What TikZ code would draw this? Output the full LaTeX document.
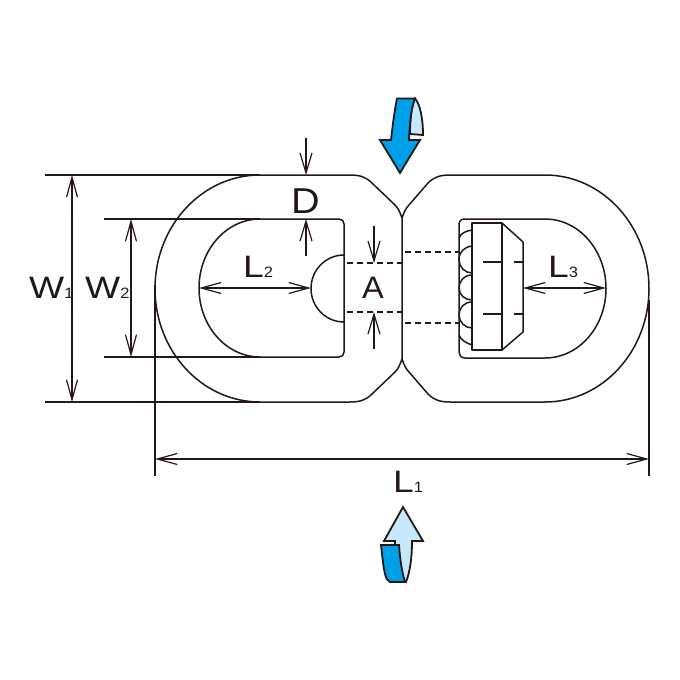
\documentclass[tikz,border=0pt]{standalone}
\usepackage{fontspec}
\setmainfont{Liberation Sans}
\usetikzlibrary{arrows.meta}
\definecolor{ink}{HTML}{231815}
\definecolor{bluefill}{HTML}{00A0E9}
\definecolor{lightfill}{HTML}{C7E8FA}
\newcommand{\dimlab}[2]{\scalebox{1.2}[1]{\fontsize{31}{31}\selectfont #1}\scalebox{1.1}[1]{\fontsize{15}{15}\selectfont #2}}
\tikzset{
  part/.style={draw=ink,line width=1.5pt,line join=round},
  thinline/.style={draw=ink,line width=1.2pt},
  dimline/.style={draw=ink,line width=1.2pt,{Straight Barb[length=20pt,width=11pt,line width=1.2pt]}-{Straight Barb[length=20pt,width=11pt,line width=1.2pt]}},
  pointer/.style={draw=ink,line width=1.2pt,-{Straight Barb[length=20pt,width=12pt,line width=1.2pt]}},
  dashline/.style={draw=ink,line width=1.3pt,dash pattern=on 6pt off 4pt},
  arrowline/.style={draw=ink,line width=1.8pt,line join=miter},
  dimtext/.style={inner sep=0pt,anchor=base west,text=ink}
}
\begin{document}
\begin{tikzpicture}[x=1pt,y=-1pt]
\useasboundingbox (0,0) rectangle (680,680);
% extension lines
\draw[thinline] (45,175) -- (260,175);
\draw[thinline] (45,402) -- (260,402);
\draw[thinline] (104,219) -- (260,219);
\draw[thinline] (104,357) -- (260,357);
\draw[thinline] (155,285) -- (155,476);
\draw[thinline] (649,300) -- (649,476);
% outer contour, left ring
\draw[part] (402,218) .. controls (400,212) and (398,208) .. (395,205)
  -- (372,183) .. controls (366,177) and (360,175) .. (350,175) -- (260,175)
  arc[start angle=-90,end angle=-270,x radius=105,y radius=113.5] -- (350,402)
  .. controls (360,402) and (366,400) .. (372,394) -- (395,372)
  .. controls (398,369) and (400,365) .. (402,359) -- cycle;
% outer contour, right ring
\draw[part] (402,218) .. controls (404,212) and (406,208) .. (409,205)
  -- (428,183) .. controls (434,177) and (440,175) .. (450,175) -- (545,175)
  arc[start angle=-90,end angle=90,x radius=104,y radius=113.5] -- (450,402)
  .. controls (440,402) and (434,400) .. (428,394) -- (409,372)
  .. controls (406,369) and (404,365) .. (402,359);
% inner left
\draw[part] (260,219) -- (339,219) .. controls (342,219) and (344,221) .. (344,224)
  -- (344,352) .. controls (344,355) and (342,357) .. (339,357) -- (260,357)
  arc[start angle=90,end angle=270,x radius=61,y radius=69] -- cycle;
\draw[part] (344,255) arc[start angle=90,end angle=270,x radius=33,y radius=-33.5];
% inner right
\draw[part] (545,219) -- (465,219) .. controls (461,219) and (459,221) .. (459,225)
  -- (459,352) .. controls (459,355) and (461,358) .. (465,358) -- (545,358)
  arc[start angle=90,end angle=-90,x radius=61,y radius=69.5] -- cycle;
% swivel head
\draw[part] (472,223) rectangle (502,350);
\draw[part] (502,223) -- (523,242) -- (523,332) -- (502,350);
\draw[part] (483,262) -- (502,262) (514,262) -- (523,262);
\draw[part] (483,314) -- (502,314) (514,314) -- (523,314);
% balls
\draw[part] (459,238) .. controls (461,233) and (466,231) .. (472,230);
\draw[part] (472,246) .. controls (464,247) and (459,252) .. (459,260) .. controls (459,267) and (465,273) .. (472,273);
\draw[part] (472,275) .. controls (464,275) and (459,281) .. (459,288) .. controls (459,295) and (465,300) .. (472,300);
\draw[part] (472,302) .. controls (464,302) and (459,308) .. (459,315) .. controls (459,322) and (465,328) .. (472,328);
\draw[part] (459,335) .. controls (461,340) and (466,343) .. (472,345);
% dashed hidden lines
\draw[dashline] (347,263) -- (402,263);
\draw[dashline] (347,312) -- (402,312);
\draw[dashline] (405,252) -- (459,252);
\draw[dashline] (405,323) -- (459,323);
% dimensions
\draw[dimline] (72,175) -- (72,402);
\draw[dimline] (131,219) -- (131,357);
\draw[dimline] (155,459) -- (649,459);
\draw[dimline] (199,288) -- (311,288);
\draw[dimline] (523,288) -- (606,288);
\draw[pointer] (306,138) -- (306,175);
\draw[pointer] (306,256) -- (306,219);
\draw[pointer] (374,226) -- (374,263);
\draw[pointer] (374,349) -- (374,312);
% labels
\node[dimtext] (lw1) at (29,298) {\dimlab{W}{1}};
\node[dimtext] (lw2) at (85,298) {\dimlab{W}{2}};
\node[dimtext] (ll1) at (393,492) {\dimlab{L}{1}};
\node[dimtext] (ll2) at (243,277) {\dimlab{L}{2}};
\node[dimtext] (ll3) at (548,277) {\dimlab{L}{3}};
\node[dimtext] (ld) at (291,213) {\scalebox{1.1}[1]{\fontsize{36}{36}\selectfont D}};
\node[dimtext] (la) at (362,298) {\scalebox{1.05}[1]{\fontsize{31}{31}\selectfont A}};
% top rotation arrow
\draw[arrowline,fill=lightfill] (415,98.5) .. controls (411,108) and (410,120) .. (410,134) -- (423,135) .. controls (423,118) and (420,104) .. (415,98.5) -- cycle;
\draw[arrowline,fill=bluefill] (397,98.5) -- (415,98.5) .. controls (411,108) and (410,122) .. (409,140) -- (420,140) -- (400,173) -- (380,140) -- (391,140) .. controls (393,122) and (395,108) .. (397,98.5) -- cycle;
% bottom rotation arrow
\draw[arrowline,fill=lightfill] (395,541) -- (384,541) -- (403,507) -- (423,541) -- (412,541) .. controls (412,558) and (410,572) .. (406,582) .. controls (402,582) and (402,576) .. (400,560) -- (395,546) -- cycle;
\draw[arrowline,fill=bluefill] (381,545) -- (399,545) .. controls (400,560) and (402,572) .. (405,582) -- (390,582) .. controls (385,580) and (384,572) .. (381,545) -- cycle;
\end{tikzpicture}
\end{document}
